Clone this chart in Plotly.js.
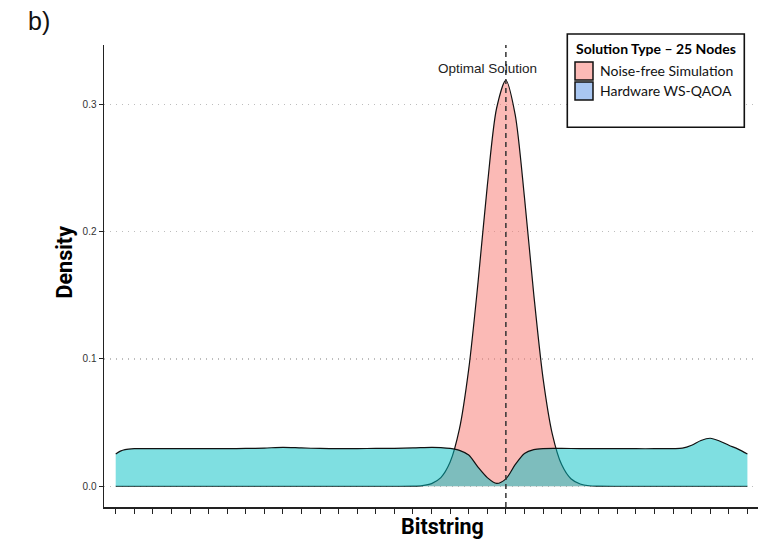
<!DOCTYPE html>
<html>
<head>
<meta charset="utf-8">
<script src="https://cdn.plot.ly/plotly-3.0.1.min.js"></script>
<style>html,body{margin:0;padding:0;background:#fff;}#chart{width:762px;height:542px;}</style>
</head>
<body>
<div id="chart"></div>
<script>
// Bitstring index positions (one tick per bitstring category)
const bitstringTicks = [0,1,2,3,4,5,6,7,8,9,10,11,12,13,14,15,16,17,18,19,20,21,22,23,24,25,26,27,28,29,30,31,32,33,34];
const optimalBitstring = 21;
const yTickVals = [0.0, 0.1, 0.2, 0.3];
const yTickText = ["0.0", "0.1", "0.2", "0.3"];

// Noise-free simulation density
const noiseFreeX = [0, 5, 10, 15, 16, 16.5, 17, 17.5, 18, 18.5, 19, 19.5, 20, 20.5, 21, 21.5, 22, 22.5, 23, 23.5, 24, 24.5, 25, 25.5, 26, 27, 30, 34];
const noiseFreeY = [0, 0, 0, 0, 0.0001, 0.0005, 0.0021, 0.0068, 0.019, 0.045, 0.092, 0.160, 0.236, 0.297, 0.319, 0.292, 0.227, 0.151, 0.085, 0.041, 0.017, 0.0059, 0.0018, 0.0004, 0.0001, 0, 0, 0];

// Hardware WS-QAOA density
const hardwareX = [0, 0.25, 0.5, 1, 2, 3, 4, 5, 6, 7, 8, 9, 10, 11, 12, 13, 14, 15, 16, 17, 17.5, 18, 18.5, 19, 19.5, 20, 20.5, 21, 21.5, 22, 22.5, 23, 24, 25, 26, 27, 28, 29, 30, 30.5, 31, 31.5, 32, 32.5, 33, 33.5, 34];
const hardwareY = [0.0254, 0.0276, 0.0288, 0.0295, 0.0296, 0.0296, 0.0295, 0.0296, 0.0296, 0.0297, 0.0300, 0.0306, 0.0301, 0.0297, 0.0296, 0.0296, 0.0297, 0.0298, 0.0301, 0.0306, 0.0304, 0.0297, 0.0282, 0.0245, 0.0150, 0.0068, 0.0022, 0.0058, 0.0170, 0.0258, 0.0288, 0.0296, 0.0297, 0.0296, 0.0296, 0.0296, 0.0295, 0.0295, 0.0296, 0.0299, 0.0322, 0.0360, 0.0377, 0.0356, 0.0322, 0.0292, 0.0254];

const seriesNames = ["Noise-free Simulation", "Hardware WS-QAOA"];
const legendTitle = "Solution Type \u2013 25 Nodes";

const traces = [
  {
    x: noiseFreeX, y: noiseFreeY, type: "scatter", mode: "lines",
    name: seriesNames[0], fill: "tozeroy", fillcolor: "rgba(248,118,109,0.5)",
    line: {color: "#111", width: 1.2, shape: "spline", smoothing: 0.8},
    showlegend: false, hoverinfo: "skip"
  },
  {
    x: hardwareX, y: hardwareY, type: "scatter", mode: "lines",
    name: seriesNames[1], fill: "tozeroy", fillcolor: "rgba(0,191,196,0.5)",
    line: {color: "#111", width: 1.2, shape: "spline", smoothing: 0.8},
    showlegend: false, hoverinfo: "skip"
  }
];

// plot area: x 104..758 px, y 45..507 px
const L = 104, R = 758, T = 45, B = 507;
const px = v => (v - L) / (R - L);
const py = v => (B - v) / (B - T);

const layout = {
  width: 762, height: 542,
  margin: {l: L, r: 762 - R, t: T, b: 542 - B, pad: 0},
  paper_bgcolor: "#fff", plot_bgcolor: "#fff",
  font: {family: "Liberation Sans, Arial, sans-serif", color: "#333"},
  showlegend: false,
  hovermode: false,
  xaxis: {
    range: [-0.63, 34.57], tickvals: bitstringTicks, showticklabels: false,
    ticks: "outside", ticklen: 5, tickwidth: 1, tickcolor: "#222",
    showline: true, linecolor: "#222", linewidth: 1.5,
    showgrid: false, zeroline: false
  },
  yaxis: {
    range: [-0.0163, 0.3467], tickvals: yTickVals, ticktext: yTickText,
    ticks: "outside", ticklen: 4, tickwidth: 1, tickcolor: "#222",
    tickfont: {size: 10, color: "#333"},
    showline: true, linecolor: "#222", linewidth: 1.5,
    showgrid: true, gridcolor: "#bdbdbd", gridwidth: 1.2, griddash: "1px,5px",
    zeroline: false
  },
  shapes: [
    {type: "line", xref: "x", yref: "paper", x0: optimalBitstring, x1: optimalBitstring, y0: 0, y1: 1,
     line: {color: "#333", width: 1.5, dash: "5px,4px"}, layer: "above"},
    {type: "rect", xref: "paper", yref: "paper", x0: px(567.3), x1: px(744.3), y0: py(127.3), y1: py(34),
     line: {color: "#111", width: 1.6}, fillcolor: "#fff", layer: "above"},
    {type: "rect", xref: "paper", yref: "paper", x0: px(575), x1: px(593), y0: py(80), y1: py(62),
     line: {color: "#111", width: 1.5}, fillcolor: "#fcbab6", layer: "above"},
    {type: "rect", xref: "paper", yref: "paper", x0: px(575), x1: px(593), y0: py(100), y1: py(82),
     line: {color: "#111", width: 1.5}, fillcolor: "#a9c7f2", layer: "above"}
  ],
  annotations: [
    {text: "Optimal Solution", xref: "x", yref: "y", x: 20, y: 0.3286, showarrow: false,
     xanchor: "center", yanchor: "middle", font: {family: "Liberation Sans, Arial", size: 13.5, color: "#222"}},
    {text: "b)", xref: "paper", yref: "paper", x: px(39), y: py(21), showarrow: false,
     xanchor: "center", yanchor: "middle", font: {family: "Liberation Sans, Arial", size: 25, color: "#111"}},
    {text: "<b>Density</b>", xref: "paper", yref: "paper", x: px(64), y: py(262.5), showarrow: false,
     textangle: -90, xanchor: "center", yanchor: "middle", font: {family: "Roboto, sans-serif", size: 21.5, color: "#000"}},
    {text: "<b>Bitstring</b>", xref: "paper", yref: "paper", x: px(442), y: py(526), showarrow: false,
     xanchor: "center", yanchor: "middle", font: {family: "Roboto, sans-serif", size: 21.5, color: "#000"}},
    {text: "<b>" + legendTitle + "</b>", xref: "paper", yref: "paper", x: px(574), y: py(48.5), showarrow: false,
     xanchor: "left", yanchor: "middle", font: {family: "Lato, sans-serif", size: 14, color: "#000"}},
    {text: seriesNames[0], xref: "paper", yref: "paper", x: px(598), y: py(70.5), showarrow: false,
     xanchor: "left", yanchor: "middle", font: {family: "Lato, sans-serif", size: 14, color: "#111"}},
    {text: seriesNames[1], xref: "paper", yref: "paper", x: px(598), y: py(91), showarrow: false,
     xanchor: "left", yanchor: "middle", font: {family: "Lato, sans-serif", size: 14, color: "#111"}}
  ]
};

Plotly.newPlot("chart", traces, layout, {displayModeBar: false, staticPlot: true});
</script>
</body>
</html>
